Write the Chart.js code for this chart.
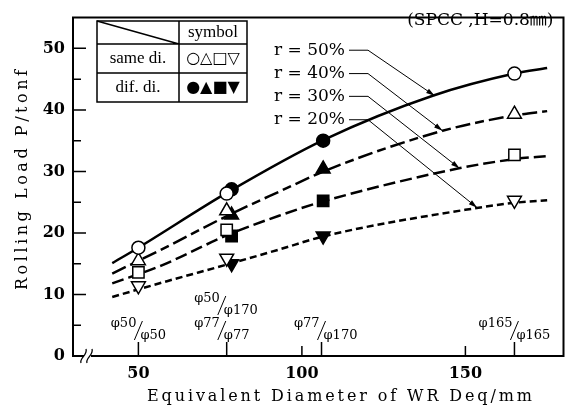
<!DOCTYPE html>
<html>
<head>
<meta charset="utf-8">
<script src="https://cdn.jsdelivr.net/npm/chart.js@4.4.0/dist/chart.umd.min.js"></script>
<style>
body { margin: 0; background: #fff; }
canvas { display: block; }
</style>
</head>
<body>
<canvas id="rollChart" width="573" height="408"></canvas>
<script>
// fitted curves (x = Deq in mm, y = P in tonf)
const r50X = [42, 50, 77, 107, 140, 165, 175];
const r50Y = [15.1, 17.6, 26.5, 35.2, 42.3, 45.9, 46.8];
const r40X = [42, 57, 78, 93, 108, 143, 165, 175];
const r40Y = [13.4, 17.3, 23.0, 26.7, 30.3, 36.6, 39.1, 39.8];
const r30X = [42, 57, 77, 93, 107, 148, 165, 175];
const r30Y = [11.8, 14.7, 19.6, 22.8, 25.2, 30.5, 32.0, 32.5];
const r20X = [42, 59, 78, 93, 107, 154, 165, 175];
const r20Y = [9.6, 12.2, 15.0, 17.3, 19.5, 24.1, 24.9, 25.3];

// measured points: same diameter rolls (open) and different diameters (filled)
const sameX = [50, 77, 165];
const sameCircleY = [17.6, 26.4, 45.9];
const sameTriY = [15.5, 23.6, 39.3];
const sameSquareY = [13.6, 20.5, 32.7];
const sameDownY = [11.4, 15.9, 25.3];
const difX = [78.5, 106.5];
const difCircleY = [27.1, 35.0];
const difTriY = [22.9, 30.4];
const difSquareY = [19.5, 25.2];
const difDownY = [15.0, 19.5];

const xTicks = [50, 100, 150];
const yTicks = [0, 5, 10, 15, 20, 25, 30, 35, 40, 45, 50, 55];

// r = ..% labels and where their arrows land on the curves
const rLabels = ['r = 50%', 'r = 40%', 'r = 30%', 'r = 20%'];
const rLabelY = [49.7, 45.9, 42.2, 38.4];
const rArrowX = [140.6, 143, 148.2, 153.6];
const rArrowY = [42.3, 36.6, 30.5, 24.1];

// roll diameter combinations written above the axis
const diaX = [50, 75.5, 75.5, 106, 165];
const diaUpper = ['φ50', 'φ50', 'φ77', 'φ77', 'φ165'];
const diaLower = ['φ50', 'φ170', 'φ77', 'φ170', 'φ165'];
const diaRow = [0, 1, 0, 0, 0];
const diaTickX = [50, 77, 106, 165];

const toPts = (xs, ys) => xs.map((v, i) => ({ x: v, y: ys[i] }));

const SERIF = '"DejaVu Serif", "Liberation Serif", serif';

const curve = (label, xs, ys, dash, width) => ({
    type: 'line',
    label: label,
    data: toPts(xs, ys),
    borderColor: '#000',
    borderWidth: width,
    borderDash: dash,
    pointRadius: 0,
    cubicInterpolationMode: 'monotone',
    fill: false,
    order: 2,
});

const marks = (xs, ys, style, filled, radius, rotation) => ({
    type: 'scatter',
    data: toPts(xs, ys),
    pointStyle: style,
    pointRadius: radius,
    pointRotation: rotation || 0,
    pointBackgroundColor: filled ? '#000' : '#fff',
    pointBorderColor: '#000',
    pointBorderWidth: 1.5,
    order: 1,
});

const spaced = (ctx, text, x, y, width) => {
    ctx.letterSpacing = '0px';
    const w = ctx.measureText(text).width;
    const ls = (width - w) / (text.length - 1);
    ctx.letterSpacing = ls + 'px';
    ctx.textAlign = 'left';
    ctx.fillText(text, x, y);
    ctx.letterSpacing = '0px';
};

const decor = {
    id: 'decor',
    afterDatasetsDraw(chart) {
        const { ctx, chartArea: a, scales } = chart;
        const sx = scales.x, sy = scales.y;
        ctx.save();
        ctx.strokeStyle = '#000';
        ctx.fillStyle = '#000';

        // frame with the axis break near the origin
        const brk = a.left + 14;
        ctx.lineWidth = 2;
        ctx.beginPath();
        ctx.moveTo(brk - 3, a.bottom);
        ctx.lineTo(a.left, a.bottom);
        ctx.lineTo(a.left, a.top);
        ctx.lineTo(a.right, a.top);
        ctx.lineTo(a.right, a.bottom);
        ctx.lineTo(brk + 4, a.bottom);
        ctx.stroke();
        ctx.lineWidth = 1.3;
        for (const off of [-3, 3]) {
            ctx.beginPath();
            ctx.moveTo(brk + off - 3, a.bottom + 7);
            ctx.bezierCurveTo(brk + off - 5, a.bottom + 2, brk + off + 4, a.bottom - 1, brk + off + 2, a.bottom - 7);
            ctx.stroke();
        }

        // inward ticks
        ctx.lineWidth = 1.5;
        ctx.beginPath();
        for (const v of yTicks) {
            if (v === 0 || v > 50) continue;
            const py = sy.getPixelForValue(v);
            ctx.moveTo(a.left, py);
            ctx.lineTo(a.left + (v % 10 === 0 ? 13 : 8), py);
        }
        for (const v of xTicks) {
            const px = sx.getPixelForValue(v);
            ctx.moveTo(px, a.bottom);
            ctx.lineTo(px, a.bottom - 10);
        }
        for (const v of diaTickX) {
            const px = sx.getPixelForValue(v);
            ctx.moveTo(px, a.bottom);
            ctx.lineTo(px, a.bottom - 14);
        }
        ctx.stroke();

        // diameter labels
        ctx.font = '13px ' + SERIF;
        ctx.textBaseline = 'middle';
        ctx.lineWidth = 1;
        diaX.forEach((v, i) => {
            const px = sx.getPixelForValue(v);
            const base = diaRow[i] ? a.bottom - 51 : a.bottom - 26;
            ctx.textAlign = 'right';
            ctx.fillText(diaUpper[i], px - 2, base - 6);
            ctx.textAlign = 'left';
            ctx.fillText(diaLower[i], px + 2, base + 6);
            ctx.beginPath();
            ctx.moveTo(px - 4, base + 10);
            ctx.lineTo(px + 4, base - 9);
            ctx.stroke();
        });

        // r = ..% labels with leader arrows
        ctx.font = '17px ' + SERIF;
        ctx.textAlign = 'right';
        ctx.textBaseline = 'middle';
        const textEnd = 345;
        rLabels.forEach((t, i) => {
            const py = sy.getPixelForValue(rLabelY[i]);
            ctx.fillText(t, textEnd, py);
            const tx = sx.getPixelForValue(rArrowX[i]);
            const ty = sy.getPixelForValue(rArrowY[i]);
            ctx.lineWidth = 1;
            ctx.beginPath();
            ctx.moveTo(textEnd + 4, py);
            ctx.lineTo(textEnd + 23, py);
            ctx.lineTo(tx, ty);
            ctx.stroke();
            const ang = Math.atan2(ty - py, tx - (textEnd + 23));
            ctx.beginPath();
            ctx.moveTo(tx, ty);
            ctx.lineTo(tx - 9 * Math.cos(ang - 0.28), ty - 9 * Math.sin(ang - 0.28));
            ctx.lineTo(tx - 9 * Math.cos(ang + 0.28), ty - 9 * Math.sin(ang + 0.28));
            ctx.closePath();
            ctx.fill();
        });

        // condition note
        ctx.font = '17px ' + SERIF + ', "Noto Sans CJK JP"';
        ctx.textAlign = 'right';
        ctx.fillText('(SPCC ,H=0.8㎜)', a.right - 10, 21);

        // symbol table
        const tl = 97, tm = 179, tr = 247, r0 = 21, r1 = 44, r2 = 73, r3 = 102;
        ctx.fillStyle = '#fff';
        ctx.fillRect(tl, r0, tr - tl, r3 - r0);
        ctx.fillStyle = '#000';
        ctx.lineWidth = 1.5;
        ctx.strokeRect(tl, r0, tr - tl, r3 - r0);
        ctx.beginPath();
        ctx.moveTo(tm, r0); ctx.lineTo(tm, r3);
        ctx.moveTo(tl, r1); ctx.lineTo(tr, r1);
        ctx.moveTo(tl, r2); ctx.lineTo(tr, r2);
        ctx.moveTo(tl, r0); ctx.lineTo(tm, r1);
        ctx.stroke();
        ctx.textAlign = 'center';
        ctx.font = '17px "Liberation Serif", serif';
        ctx.fillText('symbol', (tm + tr) / 2, (r0 + r1) / 2);
        ctx.fillText('same di.', (tl + tm) / 2, (r1 + r2) / 2);
        ctx.fillText('dif. di.', (tl + tm) / 2, (r2 + r3) / 2);
        ctx.font = '16px "DejaVu Sans", sans-serif';
        ctx.fillText('○△□▽', (tm + tr) / 2, (r1 + r2) / 2);
        ctx.fillText('●▲■▼', (tm + tr) / 2, (r2 + r3) / 2);

        // axis titles
        ctx.font = '16px ' + SERIF;
        ctx.textBaseline = 'alphabetic';
        spaced(ctx, 'Equivalent Diameter of WR Deq/mm', 147, 401, 385);
        ctx.translate(27, 290);
        ctx.rotate(-Math.PI / 2);
        spaced(ctx, 'Rolling Load P/tonf', 0, 0, 220);
        ctx.restore();
    },
};

new Chart(document.getElementById('rollChart'), {
    data: {
        datasets: [
            curve('r = 50%', r50X, r50Y, [], 2.5),
            curve('r = 40%', r40X, r40Y, [15, 5, 9, 5], 2.5),
            curve('r = 30%', r30X, r30Y, [12, 5], 2.5),
            curve('r = 20%', r20X, r20Y, [7, 4], 2.5),
            marks(sameX, sameCircleY, 'circle', false, 6.5),
            marks(sameX, sameTriY, 'triangle', false, 8),
            marks(sameX, sameSquareY, 'rect', false, 8),
            marks(sameX, sameDownY, 'triangle', false, 8, 180),
            marks(difX, difCircleY, 'circle', true, 6.5),
            marks(difX, difTriY, 'triangle', true, 8),
            marks(difX, difSquareY, 'rect', true, 8),
            marks(difX, difDownY, 'triangle', true, 8, 180),
        ],
    },
    options: {
        responsive: false,
        animation: false,
        layout: { padding: { top: 4, right: 7, left: 0, bottom: 0 } },
        plugins: { legend: { display: false }, tooltip: { enabled: false } },
        scales: {
            x: {
                type: 'linear',
                min: 30,
                max: 180,
                afterBuildTicks: (s) => { s.ticks = xTicks.map((v) => ({ value: v })); },
                afterFit: (s) => { s.height = 52; },
                grid: { display: false, drawTicks: false },
                border: { display: false },
                ticks: { color: '#000', padding: 8, maxRotation: 0, font: { family: SERIF, size: 16, weight: 'bold' } },
            },
            y: {
                type: 'linear',
                min: 0,
                max: 55,
                afterBuildTicks: (s) => { s.ticks = yTicks.map((v) => ({ value: v })); },
                afterFit: (s) => { s.width = 73; },
                grid: { display: false, drawTicks: false },
                border: { display: false },
                ticks: {
                    color: '#000',
                    padding: 8,
                    font: { family: SERIF, size: 16, weight: 'bold' },
                    callback: (v) => (v % 10 === 0 ? v : ''),
                },
            },
        },
    },
    plugins: [decor],
});
</script>
</body>
</html>
